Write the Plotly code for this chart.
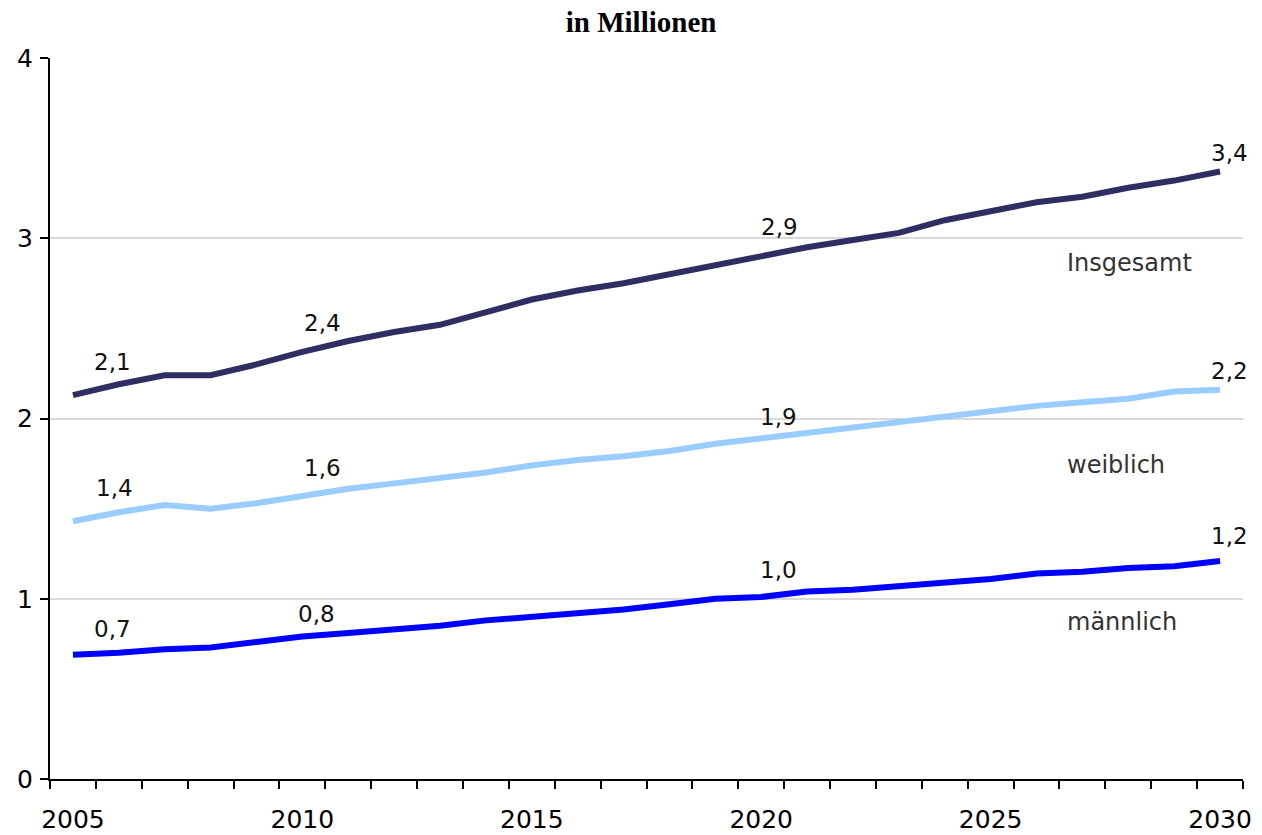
import plotly.graph_objects as go

# Jahre und Werte (in Millionen)
years = list(range(2005, 2031))
insgesamt = [2.13, 2.19, 2.24, 2.24, 2.30, 2.37, 2.43, 2.48, 2.52, 2.59,
             2.66, 2.71, 2.75, 2.80, 2.85, 2.90, 2.95, 2.99, 3.03, 3.10,
             3.15, 3.20, 3.23, 3.28, 3.32, 3.37]
weiblich = [1.43, 1.48, 1.52, 1.50, 1.53, 1.57, 1.61, 1.64, 1.67, 1.70,
            1.74, 1.77, 1.79, 1.82, 1.86, 1.89, 1.92, 1.95, 1.98, 2.01,
            2.04, 2.07, 2.09, 2.11, 2.15, 2.16]
maennlich = [0.69, 0.70, 0.72, 0.73, 0.76, 0.79, 0.81, 0.83, 0.85, 0.88,
             0.90, 0.92, 0.94, 0.97, 1.00, 1.01, 1.04, 1.05, 1.07, 1.09,
             1.11, 1.14, 1.15, 1.17, 1.18, 1.21]

series_names = ["Insgesamt", "weiblich", "männlich"]
label_years = [2005, 2010, 2020, 2030]
x_tick_years = [2005, 2010, 2015, 2020, 2025, 2030]
y_ticks = [0, 1, 2, 3, 4]

colors = ["#2f2e62", "#99ccff", "#0000ff"]
series = [insgesamt, weiblich, maennlich]

# Offsets (px) of the value labels relative to their point, per series
label_shift = [
    [(40, 33), (20, 29), (18, 29), (9, 19)],
    [(42, 33), (20, 28), (17, 21), (9, 19)],
    [(40, 26), (14, 23), (17, 27), (9, 25)],
]
# vertical position of the series names (in data units)
name_y = [2.86, 1.74, 0.87]

font_family = "DejaVu Sans"

fig = go.Figure()
for name, vals, col in zip(series_names, series, colors):
    fig.add_trace(go.Scatter(x=years, y=vals, mode="lines", name=name,
                             line=dict(color=col, width=6),
                             showlegend=False, hoverinfo="skip"))

annotations = []
for vals, shifts in zip(series, label_shift):
    for yr, (dx, dy) in zip(label_years, shifts):
        v = vals[years.index(yr)]
        annotations.append(dict(
            x=yr, y=v, xref="x", yref="y", showarrow=False,
            text=f"{v:.1f}".replace(".", ","),
            xshift=dx, yshift=dy, xanchor="center", yanchor="middle",
            font=dict(family=font_family, size=23, color="#111111")))

for name, yv in zip(series_names, name_y):
    annotations.append(dict(
        x=0.851, y=yv, xref="paper", yref="y", showarrow=False,
        text=name, xanchor="left", yanchor="middle",
        font=dict(family=font_family, size=24, color="#333333")))

fig.update_layout(
    width=1262, height=835,
    margin=dict(l=50, r=19, t=58, b=56),
    paper_bgcolor="white", plot_bgcolor="white",
    title=dict(text="<b>in Millionen</b>", x=0.508, xref="container",
               xanchor="center", y=1 - 22 / 835, yref="container",
               yanchor="middle",
               font=dict(family="Liberation Serif", size=29, color="black")),
    annotations=annotations,
    xaxis=dict(
        range=[2004.5, 2030.5], tickvals=x_tick_years,
        ticktext=[str(y) for y in x_tick_years],
        ticks="", showgrid=False, zeroline=False, automargin=False,
        showline=True, linecolor="black", linewidth=2,
        tickfont=dict(family=font_family, size=25, color="black"),
        ticklabelstandoff=17,
        minor=dict(tick0=2004.5, dtick=1, ticks="outside", ticklen=8,
                   tickwidth=2, tickcolor="black", showgrid=False),
    ),
    yaxis=dict(
        range=[0, 4], tickvals=y_ticks, ticktext=[str(v) for v in y_ticks],
        ticks="outside", ticklen=8, tickwidth=2, tickcolor="black",
        showgrid=True, gridcolor="#d9d9d9", gridwidth=2, zeroline=False,
        showline=True, linecolor="black", linewidth=2, automargin=False,
        tickfont=dict(family=font_family, size=25, color="black"),
        ticklabelstandoff=2,
    ),
)

fig.write_html("out.html")
